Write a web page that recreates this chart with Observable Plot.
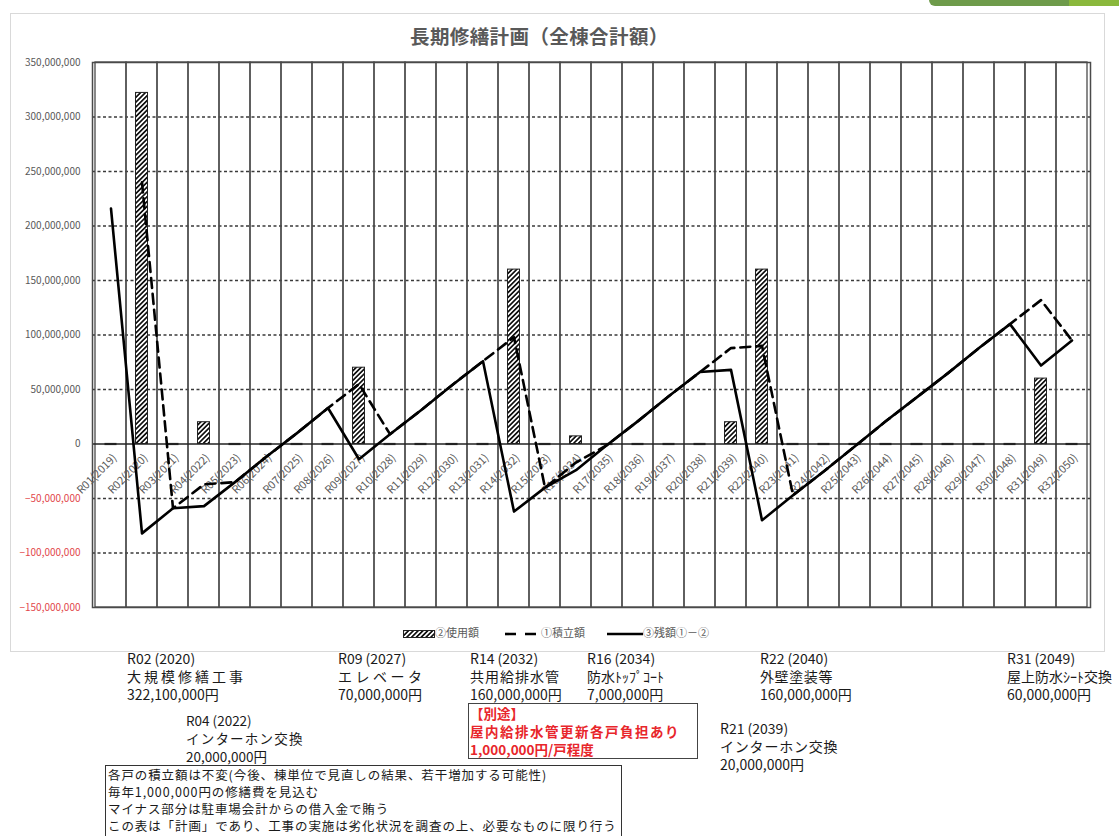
<!DOCTYPE html>
<html><head><meta charset="utf-8">
<script src="https://cdn.jsdelivr.net/npm/d3@7"></script>
<script src="https://cdn.jsdelivr.net/npm/@observablehq/plot@0.6"></script>
<style>
html,body{margin:0;padding:0;background:#fff;width:1119px;height:836px;overflow:hidden;font-family:"Noto Sans CJK JP","Noto Sans",sans-serif;}
#wrap{position:relative;width:1119px;height:836px;}
#frame{position:absolute;left:10px;top:13px;width:1095px;height:639px;border:1.5px solid #d9d9d9;box-sizing:border-box;}
#chart{position:absolute;left:0;top:0;}
#title{position:absolute;left:410px;top:21px;font-size:19.5px;font-weight:bold;color:#595959;white-space:nowrap;letter-spacing:0.4px;}
.leg{position:absolute;top:624px;font-size:11px;color:#595959;white-space:nowrap;line-height:16px;}
.leg svg{vertical-align:middle;}
.note{position:absolute;font-size:14px;line-height:18px;color:#1a1a1a;white-space:nowrap;}
#redbox{position:absolute;left:468px;top:703px;width:230px;height:56px;border:1.5px solid #444;box-sizing:border-box;color:#e8262b;font-weight:bold;font-size:13.5px;line-height:18px;padding-left:1px;white-space:nowrap;}
#memo{position:absolute;left:105px;top:765px;width:517px;height:76px;border:1.5px solid #333;box-sizing:border-box;font-size:12.5px;letter-spacing:0.9px;line-height:17px;padding:0 0 0 2px;color:#1a1a1a;white-space:nowrap;}
#tab1{position:absolute;left:929px;top:0;width:140px;height:6px;background:#6e9b4b;border-bottom-left-radius:6px;}
#tab2{position:absolute;left:1069px;top:0;width:50px;height:6px;background:#8ab83c;}
</style></head>
<body><div id="wrap">
<div id="tab1"></div><div id="tab2"></div>
<div id="frame"></div>
<div id="chart"></div>
<div id="title">長期修繕計画（全棟合計額）</div>
<div class="leg" style="left:403px"><svg width="32" height="10"><defs><pattern id="lhatch" patternUnits="userSpaceOnUse" width="3.4" height="3.4" patternTransform="rotate(45)"><rect width="3.4" height="3.4" fill="#fff"/><line x1="1.7" y1="0" x2="1.7" y2="3.4" stroke="#000" stroke-width="1.6"/></pattern></defs><rect x="0.5" y="1.5" width="31" height="7" fill="url(#lhatch)" stroke="#222" stroke-width="1"/></svg>②使用額</div>
<div class="leg" style="left:505px"><svg width="36" height="10"><line x1="0" y1="5" x2="36" y2="5" stroke="#000" stroke-width="2.6" stroke-dasharray="11,9"/></svg>①積立額</div>
<div class="leg" style="left:607px"><svg width="36" height="10"><line x1="0" y1="5" x2="36" y2="5" stroke="#000" stroke-width="2.6"/></svg>③残額①－②</div>

<div class="note" style="left:127px;top:649px">R02 (2020)<br><span style="letter-spacing:3px">大規模修繕工事</span><br>322,100,000円</div>
<div class="note" style="left:338px;top:649px">R09 (2027)<br><span style="letter-spacing:3.5px">エレベータ</span><br>70,000,000円</div>
<div class="note" style="left:470px;top:649px">R14 (2032)<br><span style="letter-spacing:1px">共用給排水管</span><br>160,000,000円</div>
<div class="note" style="left:587px;top:649px">R16 (2034)<br>防水ﾄｯﾌﾟｺｰﾄ<br>7,000,000円</div>
<div class="note" style="left:760px;top:649px">R22 (2040)<br><span style="letter-spacing:0.6px">外壁塗装等</span><br>160,000,000円</div>
<div class="note" style="left:1007px;top:649px">R31 (2049)<br>屋上防水ｼｰﾄ交換<br>60,000,000円</div>
<div class="note" style="left:186px;top:711px;font-size:13.5px">R04 (2022)<br><span style="letter-spacing:1.2px">インターホン交換</span><br>20,000,000円</div>
<div class="note" style="left:720px;top:719px">R21 (2039)<br><span style="letter-spacing:0.8px">インターホン交換</span><br>20,000,000円</div>
<div id="redbox">【別途】<br><span style="letter-spacing:1.5px">屋内給排水管更新各戸負担あり</span><br>1,000,000円/戸程度</div>
<div id="memo">各戸の積立額は不変(今後、棟単位で見直しの結果、若干増加する可能性)<br>毎年1,000,000円の修繕費を見込む<br>マイナス部分は駐車場会計からの借入金で賄う<br>この表は「計画」であり、工事の実施は劣化状況を調査の上、必要なものに限り行う</div>
</div>
<script>
const categories = ["R01(2019)","R02(2020)","R03(2021)","R04(2022)","R05(2023)","R06(2024)","R07(2025)","R08(2026)","R09(2027)","R10(2028)","R11(2029)","R12(2030)","R13(2031)","R14(2032)","R15(2033)","R16(2034)","R17(2035)","R18(2036)","R19(2037)","R20(2038)","R21(2039)","R22(2040)","R23(2041)","R24(2042)","R25(2043)","R26(2044)","R27(2045)","R28(2046)","R29(2047)","R30(2048)","R31(2049)","R32(2050)"];
// ②使用額
const usage = [0,322100000,0,20000000,0,0,0,0,70000000,0,0,0,0,160000000,0,7000000,0,0,0,0,20000000,160000000,0,0,0,0,0,0,0,0,60000000,0];
// ①積立額 (millions)
const reserveM = [null,240,-59,-37,-35,-12,10,33,55,9,31,54,76,98,-40,-17,-1,21,44,66,88,90,-47,-25,-2,21,43,65,88,110,132,95];
// ③残額①－② (millions)
const balanceM = [216,-82,-59,-57,-35,-12,10,33,-14,9,31,54,76,-62,-40,-24,-1,21,44,66,68,-70,-47,-25,-2,21,43,65,88,110,72,95];
const yTicks = [350000000,300000000,250000000,200000000,150000000,100000000,50000000,0,-50000000,-100000000,-150000000];

const rows = categories.map((c,i)=>({cat:c, usage:usage[i],
  reserve: reserveM[i]==null ? null : reserveM[i]*1e6,
  balance: balanceM[i]*1e6}));
const yMax = d3.max(yTicks), yMin = d3.min(yTicks);
const fmt = d3.format(",");

const chart = Plot.plot({
  width: 1119, height: 617,
  marginLeft: 92, marginRight: 29, marginTop: 62, marginBottom: 10,
  x: {type: "band", domain: categories, padding: 0, axis: null},
  y: {domain: [yMin, yMax], axis: null},
  color: {type: "identity"},
  style: {fontFamily: '"Noto Sans CJK JP","Noto Sans",sans-serif', background: "transparent", overflow: "visible"},
  marks: [
    Plot.ruleY(yTicks.filter(v => v !== 0 && v !== yMax && v !== yMin), {stroke: "#3a3a3a", strokeWidth: 1.3, strokeDasharray: "3,2.5"}),
    Plot.barY(categories, {x: d => d, y1: yMin, y2: yMax, fill: "none", stroke: "#4a4a4a", strokeWidth: 1.3}),
    Plot.ruleY([0], {stroke: "#222", strokeWidth: 1.6}),
    Plot.frame({stroke: "#4a4a4a", strokeWidth: 1.5}),
    Plot.barY(rows.filter(d => d.usage > 0), {x: "cat", y: "usage", fill: "url(#hatch)", stroke: "#222", strokeWidth: 1, insetLeft: 9.5, insetRight: 9.5}),
    Plot.tickY(rows.filter(d => d.usage === 0), {x: "cat", y: "usage", stroke: "#222", strokeWidth: 2.2, insetLeft: 9.5, insetRight: 9.5}),
    Plot.text(rows, {x: "cat", y: 0, text: "cat", rotate: -45, textAnchor: "end", dx: 4, dy: 12, fill: "#595959", fontSize: 11}),
    Plot.line(rows, {x: "cat", y: "reserve", stroke: "#000", strokeWidth: 2.6, strokeDasharray: "10,6"}),
    Plot.line(rows, {x: "cat", y: "balance", stroke: "#000", strokeWidth: 2.6}),
    Plot.text(yTicks, {y: d => d, text: d => fmt(d), frameAnchor: "left", textAnchor: "end", dx: -12, fill: d => d < 0 ? "#e2474b" : "#595959", fontSize: 10})
  ]
});
const svg = d3.select(chart);
const p = svg.insert("defs", ":first-child").append("pattern")
  .attr("id", "hatch").attr("patternUnits", "userSpaceOnUse")
  .attr("width", 3.4).attr("height", 3.4).attr("patternTransform", "rotate(45)");
p.append("rect").attr("width", 3.4).attr("height", 3.4).attr("fill", "#fff");
p.append("line").attr("x1", 1.7).attr("y1", 0).attr("x2", 1.7).attr("y2", 3.4).attr("stroke", "#000").attr("stroke-width", 1.6);
document.getElementById("chart").appendChild(chart);
</script>
</body></html>
